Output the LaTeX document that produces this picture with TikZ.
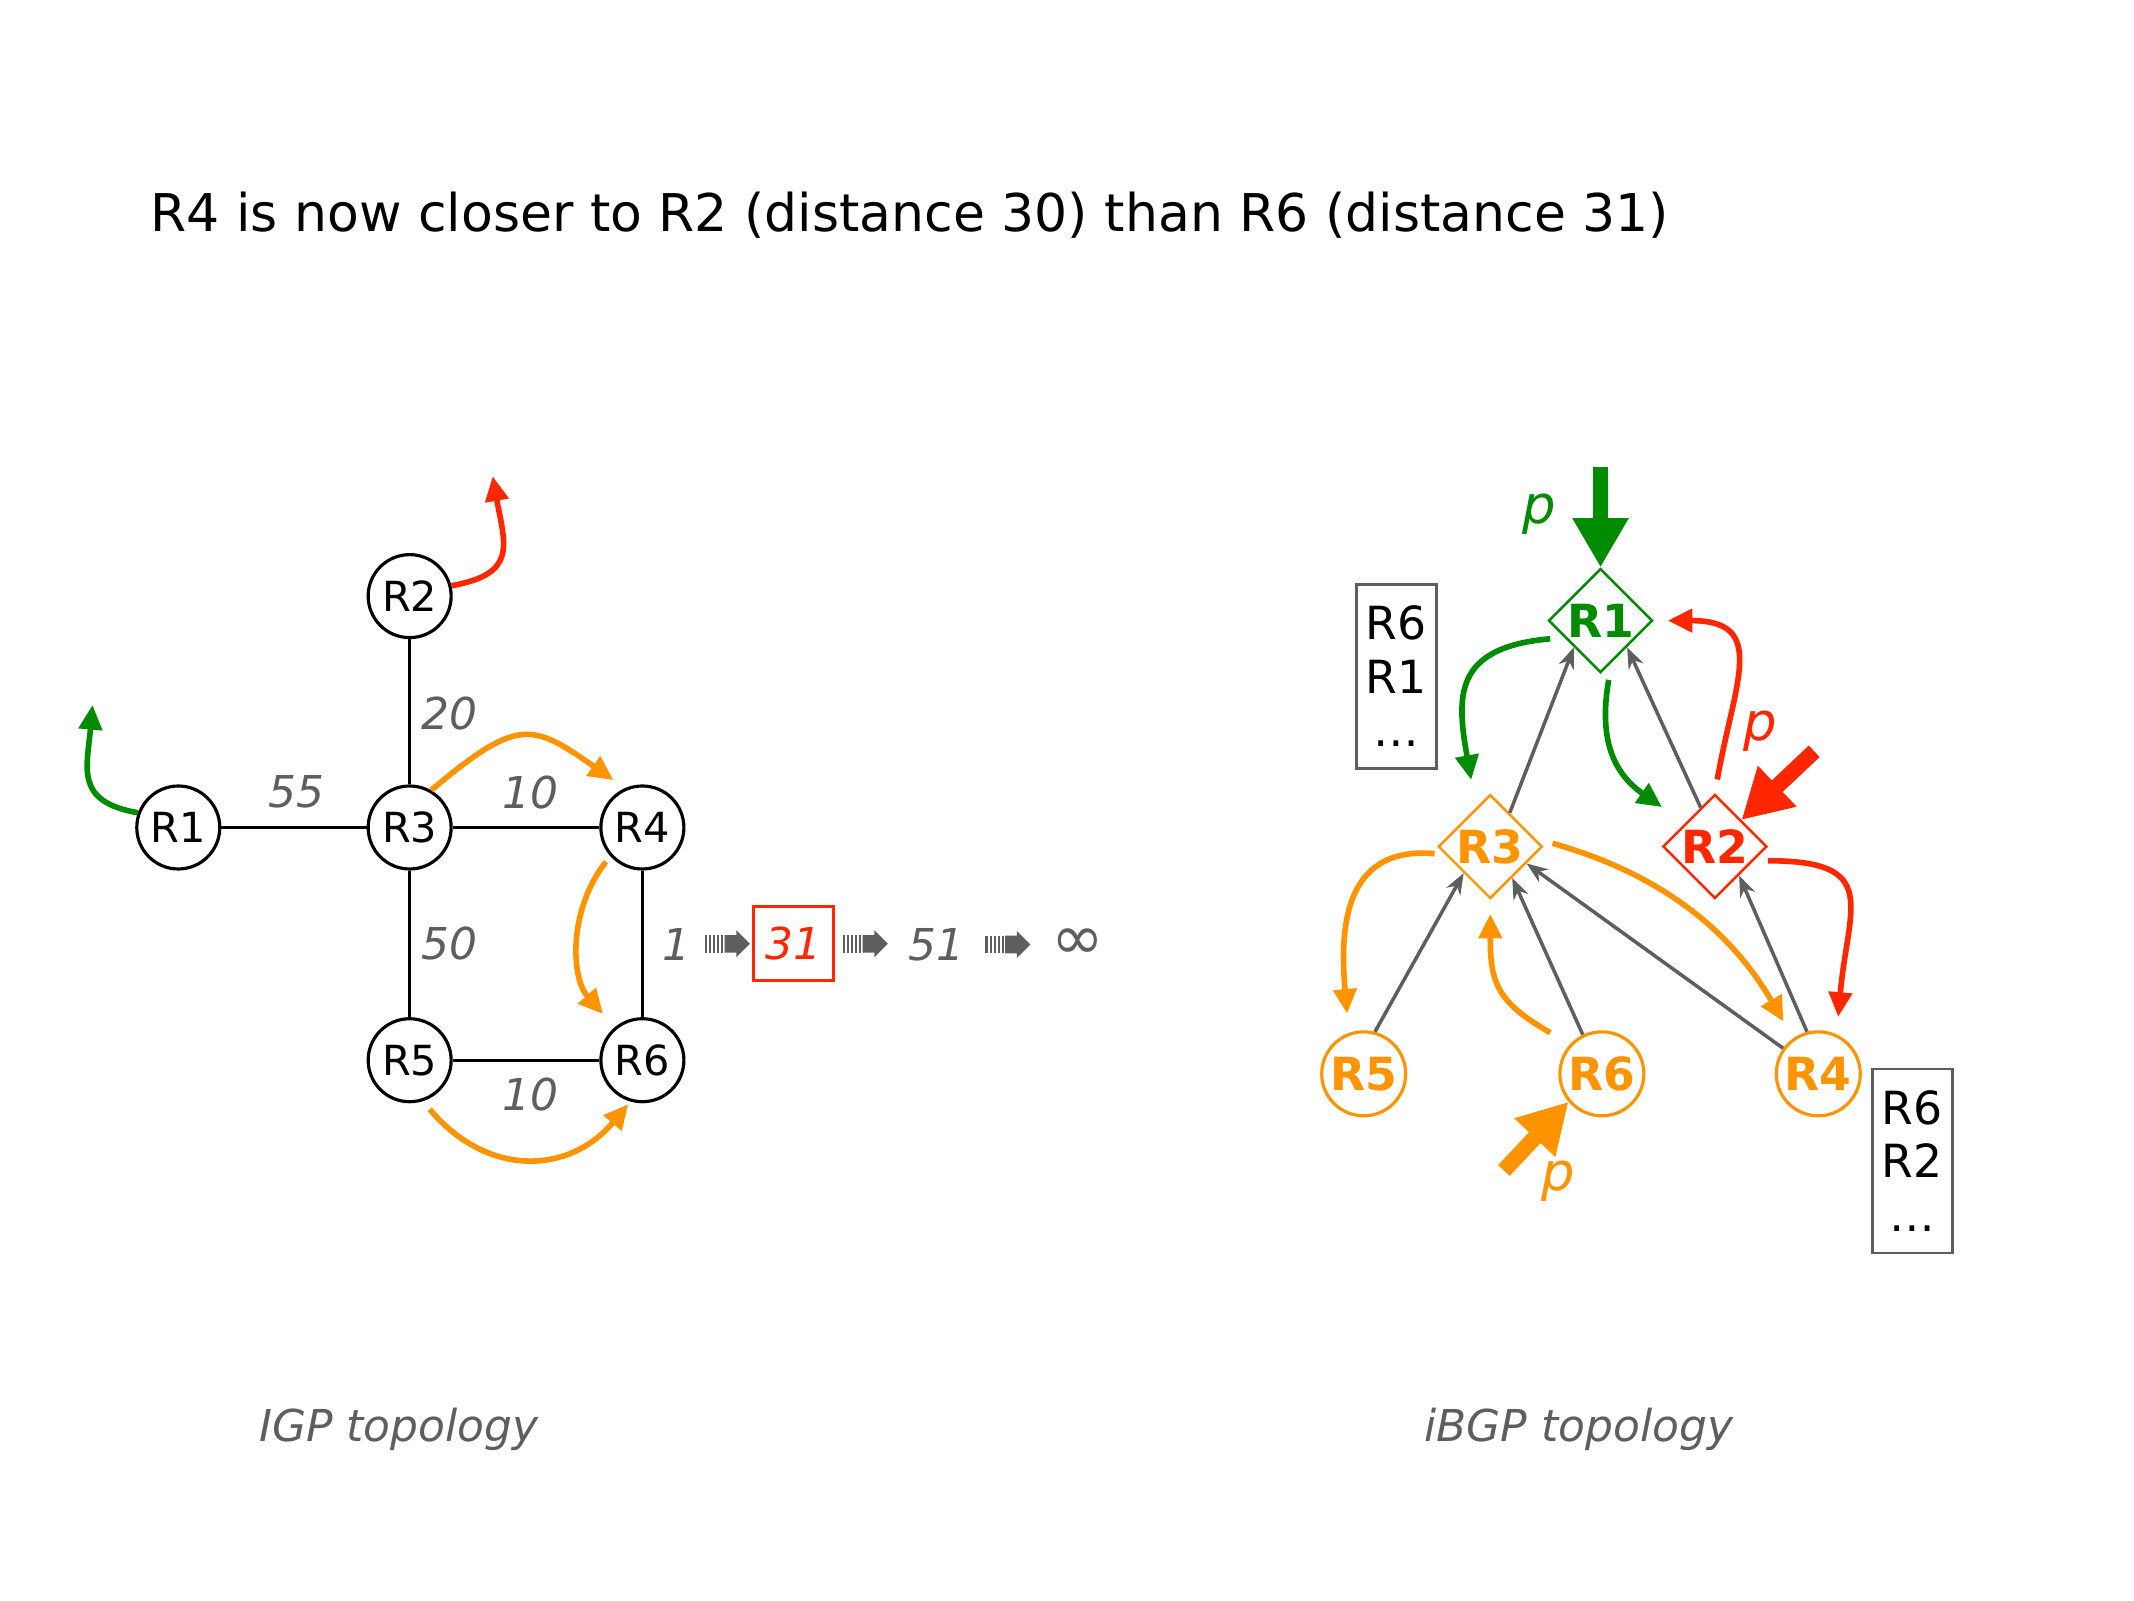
\documentclass[tikz,border=0pt]{standalone}
\usepackage{fontspec}
\setmainfont{DejaVu Sans}
\usetikzlibrary{arrows.meta,shapes.geometric,calc}
\definecolor{igpgreen}{RGB}{0,140,0}
\definecolor{igpred}{RGB}{255,38,0}
\definecolor{igporange}{RGB}{255,147,0}
\definecolor{igpgray}{RGB}{94,94,94}
\tikzset{every picture/.append style={x=0.01361cm,y=-0.01361cm}}
\tikzset{
  router/.style={circle,draw,line width=0.9pt,minimum size=0.83cm,inner sep=0pt,font=\fontsize{11.8}{14}\selectfont},
  link/.style={line width=0.8pt},
  cost/.style={text=igpgray,font=\fontsize{12.5}{15}\selectfont\itshape},
  topolabel/.style={text=igpgray,font=\fontsize{12.5}{15}\selectfont\itshape},
  rr/.style={diamond,aspect=1,draw=#1,text=#1,line width=0.7pt,minimum size=1.04cm,inner sep=0pt,font=\fontsize{13}{16}\selectfont\bfseries},
  client/.style={circle,draw=#1,text=#1,line width=0.9pt,minimum size=0.84cm,inner sep=0pt,font=\fontsize{13}{16}\selectfont\bfseries},
  rib/.style={draw=igpgray,line width=0.8pt,align=center,minimum width=0.8cm,minimum height=1.84cm,inner sep=0pt,font=\fontsize{13}{15.2}\selectfont},
  session/.style={draw=igpgray,line width=1pt,-{Stealth[length=6pt,width=4.5pt]}},
  flow/.style={line width=1.6pt,-{Triangle[length=7pt,width=6.5pt]}},
  inject/.style={line width=4.5pt,-{Triangle[length=14pt,width=15pt]}},
  plabel/.style={font=\fontsize{15}{18}\selectfont\itshape},
  stripes/.pic={
    \foreach \i in {0,...,4}
      \fill[igpgray] (-16.5+3*\i,-6.5) rectangle ++(1.6,13);
    \fill[igpgray] (-2,-6.5) -- (6.5,-6.5) -- (6.5,-10) -- (16.5,0) -- (6.5,10) -- (6.5,6.5) -- (-2,6.5) -- cycle;
  }
}

\begin{document}
\begin{tikzpicture}
  \useasboundingbox (0,0) rectangle (1568,1176);
  \node[anchor=west,inner sep=0pt,font=\fontsize{14.8}{18}\selectfont] (title) at (110,158) {R4 is now closer to R2 (distance 30) than R6 (distance 31)};

  \node[router] (l1) at (131,608) {R1};
  \node[router] (l2) at (301,438) {R2};
  \node[router] (l3) at (301,608) {R3};
  \node[router] (l4) at (472,608) {R4};
  \node[router] (l5) at (301,779) {R5};
  \node[router] (l6) at (472,779) {R6};
  \draw[link] (l1) -- (l3) (l2) -- (l3) (l3) -- (l4) (l3) -- (l5) (l4) -- (l6) (l5) -- (l6);
  \node[cost] (w13) at (218,582) {55};
  \node[cost] (w23) at (330,524) {20};
  \node[cost] (w34) at (390,582) {10};
  \node[cost] (w35) at (330,693) {50};
  \node[cost] (w56) at (390,804) {10};

  \coordinate (l1out) at (68,518);
  \coordinate (l2out) at (362,350);
  \draw[flow,igpgreen] (l1.160) to[out=170,in=-95,looseness=1.4] (l1out);
  \draw[flow,igpred] (l2.14) to[out=10,in=-80,looseness=1.5] (l2out);
  \draw[flow,igporange,shorten >=4pt] (l3.60) to[out=40,in=145,looseness=1.5] (l4.114);
  \draw[flow,igporange,shorten <=2pt,shorten >=5pt] (l4.222) to[bend right=40] (l6.130);
  \draw[flow,igporange,shorten <=3pt,shorten >=1pt] (l5.288) to[bend right=50,looseness=1.2] (l6.254);

  \node[cost] (s1) at (497,694) {1};
  \node[cost,draw=igpred,text=igpred,line width=0.8pt,minimum width=0.8cm,minimum height=0.74cm] (s31) at (583,693) {31};
  \node[cost] (s51) at (688,694) {51};
  \node[cost,font=\fontsize{18}{18}\selectfont\itshape] (sinf) at (792,694) {∞};
  \pic at ($(s1.east)!0.5!(s31.west)$) {stripes};
  \pic at ($(s31.east)!0.5!(s51.west)$) {stripes};
  \pic at ($(s51.east)!0.5!(sinf.west)$) {stripes};

  \node[rr=igpgreen] (b1) at (1176,456) {R1};
  \node[rr=igporange] (b3) at (1095,622) {R3};
  \node[rr=igpred] (b2) at (1260,622) {R2};
  \node[client=igporange] (c5) at (1002,789) {R5};
  \node[client=igporange] (c6) at (1177,789) {R6};
  \node[client=igporange] (c4) at (1336,789) {R4};
  \node[rib] (rib3) at (1026,497) {R6\\R1\\\ldots};
  \node[rib] (rib4) at (1405,853) {R6\\R2\\\ldots};

  \draw[session] (b3.60) -- (b1.south west);
  \draw[session] (b2.110) -- (b1.south east);
  \draw[session] (c5.75) -- (b3.south west);
  \draw[session] (c6.116) -- (b3.-55);
  \draw[session] (c4.144) -- (b3.-25);
  \draw[session] (c4.105) -- (b2.-50);

  \coordinate (pin1) at (1176,343);
  \coordinate (pin2) at (1333,552);
  \coordinate (pin6) at (1105,860);
  \draw[inject,igpgreen] (pin1) -- (b1.north);
  \draw[inject,igpred] (pin2) -- (b2.north east);
  \draw[inject,igporange] (pin6) -- (c6.220);
  \node[plabel,text=igpgreen] (p1) at (1131,378) {p};
  \node[plabel,text=igpred] (p2) at (1293,537) {p};
  \node[plabel,text=igporange] (p6) at (1145,868) {p};

  \draw[flow,igpgreen,shorten <=4pt,shorten >=8pt] (b1.205) to[out=185,in=100,looseness=1.5] (b3.110);
  \draw[flow,igpgreen,shorten <=5pt,shorten >=8pt] (b1.285) to[out=260,in=145,looseness=1.2] (b2.142);
  \draw[flow,igpred,shorten <=4pt,shorten >=4pt] (b2.north) to[out=80,in=0,looseness=1.6] (b1.east);
  \draw[flow,igpred,shorten <=4pt,shorten >=5pt] (b2.-20) to[out=0,in=85,looseness=1.7] (c4.65);
  \draw[flow,igporange,shorten <=3pt,shorten >=5.5pt] (b3.190) to[out=175,in=95,looseness=1.3] (c5.110);
  \draw[flow,igporange,shorten <=6.5pt,shorten >=4pt] (c6.137) to[out=150,in=-90,looseness=1.3] (b3.south);
  \draw[flow,igporange,shorten <=5pt,shorten >=5.5pt] (b3.10) to[bend left=22] (c4.125);

  \node[topolabel] (igp) at (293,1050) {IGP topology};
  \node[topolabel] (ibgp) at (1160,1050) {iBGP topology};
\end{tikzpicture}
\end{document}
